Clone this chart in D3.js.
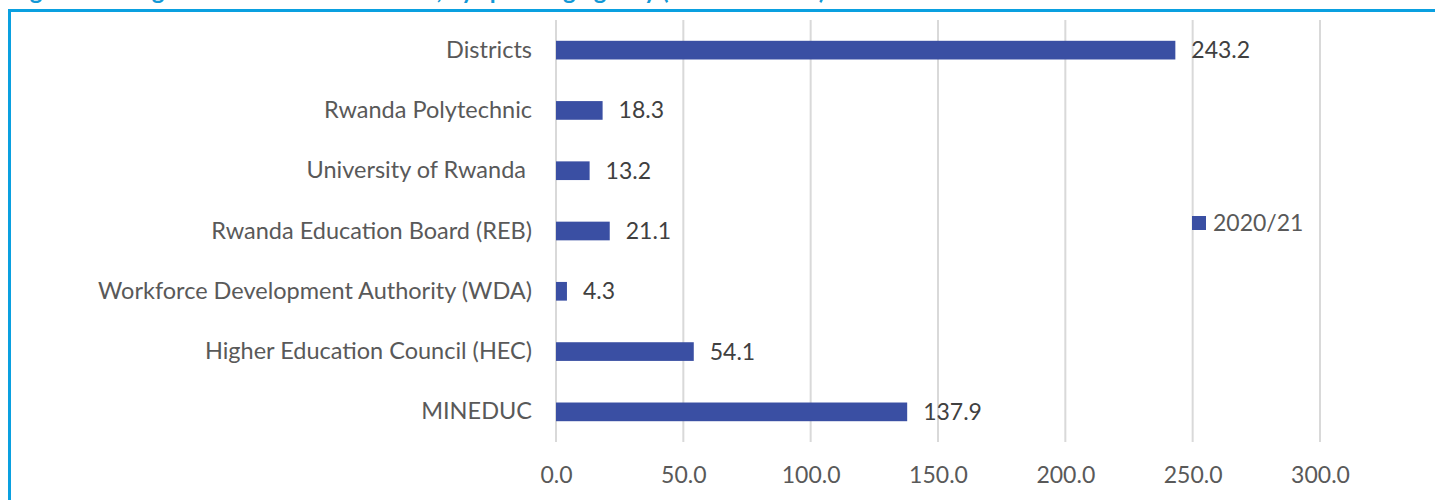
<!DOCTYPE html>
<html><head><meta charset="utf-8">
<script src="https://cdn.jsdelivr.net/npm/d3@7"></script>
<style>body{margin:0;background:#fff;overflow:hidden} text{white-space:pre}</style>
</head><body>
<svg id="c" width="1435" height="500"></svg>
<script>
const categories = ["Districts","Rwanda Polytechnic","University of Rwanda ","Rwanda Education Board (REB)","Workforce Development Authority (WDA)","Higher Education Council (HEC)","MINEDUC"];
const values2020 = [243.2,18.3,13.2,21.1,4.3,54.1,137.9];
const tickValues = [0,50,100,150,200,250,300];
const seriesName = "2020/21";
const titleText = "Figure 9: Budget allocation to education, by spending agency (in billion FRW)";

const svg = d3.select("#c");
const font = "Lato, 'Open Sans', sans-serif";
const fs = 23;
// title (clipped at top, as in the reference)
svg.append("text").attr("x",10).attr("y",-1).attr("font-family",font).attr("font-weight","bold")
  .attr("font-size",24).attr("fill","#1298d6").text(titleText);
// frame
svg.append("path").attr("d","M9.5,520 V10.5 H1440").attr("fill","none").attr("stroke","#0aa0e0").attr("stroke-width",3);

const x = d3.scaleLinear().domain([0,300]).range([556,1320]);
const y = d3.scaleBand().domain(categories).range([20,442]).paddingInner(0.69).paddingOuter(0.345);

// grid
svg.append("g").selectAll("line").data(tickValues).join("line")
  .attr("x1",d=>x(d)).attr("x2",d=>x(d)).attr("y1",20).attr("y2",442)
  .attr("stroke","#d9d9d9").attr("stroke-width",2);

// x axis labels
const xa = svg.append("g").attr("transform","translate(0,442)")
  .call(d3.axisBottom(x).tickValues(tickValues).tickFormat(d3.format(".1f")).tickSize(0).tickPadding(25));
xa.select(".domain").remove();
xa.selectAll("text").attr("font-family",font).attr("font-size",fs).attr("fill","#595959");

// y axis labels
const ya = svg.append("g").attr("transform","translate(556,0)")
  .call(d3.axisLeft(y).tickSize(0).tickPadding(24));
ya.select(".domain").remove();
ya.selectAll("text").attr("font-family",font).attr("font-size",23.5).attr("fill","#595959");

// bars
svg.append("g").selectAll("rect").data(values2020).join("rect")
  .attr("x",x(0)).attr("y",(d,i)=>y(categories[i]))
  .attr("width",d=>x(d)-x(0)).attr("height",y.bandwidth()).attr("fill","#3a4fa3");

// data labels
svg.append("g").selectAll("text").data(values2020).join("text")
  .attr("x",d=>x(d)+16).attr("y",(d,i)=>y(categories[i])+y.bandwidth()/2).attr("dy","0.35em")
  .attr("font-family",font).attr("font-size",fs).attr("fill","#404040").text(d=>d.toFixed(1));

// legend
svg.append("rect").attr("x",1192).attr("y",216).attr("width",14).attr("height",14).attr("fill","#3a4fa3");
svg.append("text").attr("x",1213).attr("y",223).attr("dy","0.35em").attr("font-family",font)
  .attr("font-size",fs).attr("fill","#595959").text(seriesName);
</script>
</body></html>
